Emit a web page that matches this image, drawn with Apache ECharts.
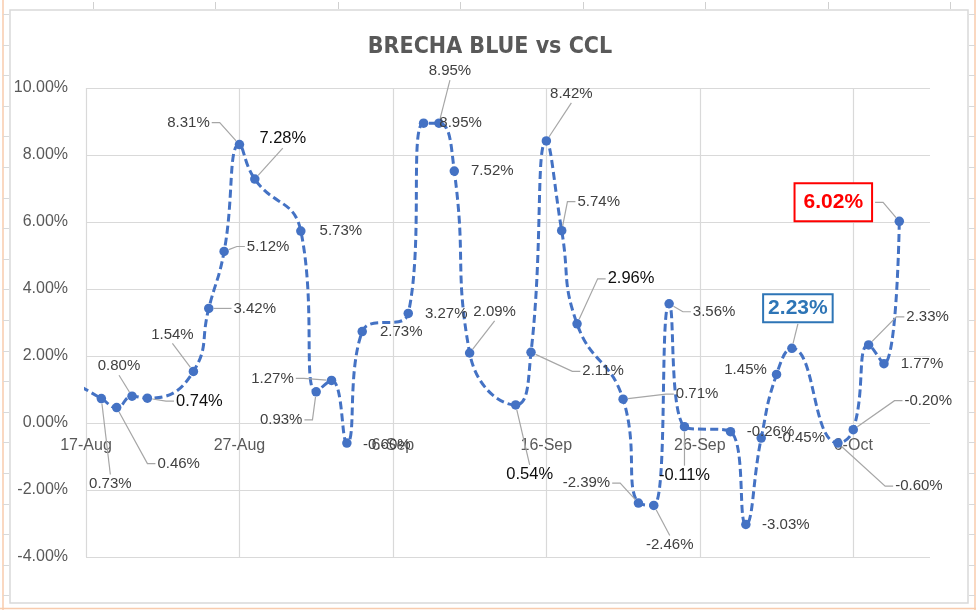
<!DOCTYPE html>
<html><head><meta charset="utf-8">
<script src="https://cdn.jsdelivr.net/npm/echarts@6/dist/echarts.min.js"></script>
<style>html,body{margin:0;padding:0;background:#fff}#c{width:980px;height:614px}</style>
</head><body><div id="c"></div>
<script>
// ---------- data ----------
const chartTitle = 'BRECHA BLUE vs CCL';
const dates = ['2020-08-14','2020-08-18','2020-08-19','2020-08-20','2020-08-21','2020-08-24','2020-08-25','2020-08-26','2020-08-27','2020-08-28','2020-08-31',
  '2020-09-01','2020-09-02','2020-09-03','2020-09-04','2020-09-07','2020-09-08','2020-09-09','2020-09-10','2020-09-11','2020-09-14','2020-09-15','2020-09-16','2020-09-17','2020-09-18','2020-09-21','2020-09-22','2020-09-23','2020-09-24','2020-09-25','2020-09-28','2020-09-29','2020-09-30',
  '2020-10-01','2020-10-02','2020-10-05','2020-10-06','2020-10-07','2020-10-08','2020-10-09'];
const brecha = [1.80,0.73,0.46,0.80,0.74,1.54,3.42,5.12,8.31,7.28,5.73,
  0.93,1.27,-0.60,2.73,3.27,8.95,8.95,7.52,2.09,0.54,2.11,8.42,5.74,2.96,0.71,-2.39,-2.46,3.56,-0.11,-0.26,-3.03,-0.45,
  1.45,2.23,-0.60,-0.20,2.33,1.77,6.02];
const monthNames = ['Jan','Feb','Mar','Apr','May','Jun','Jul','Aug','Sep','Oct','Nov','Dec'];
const axisStart = '2020-08-17';
const axisEnd = '2020-10-11';
const yTicks = {min: -4, max: 10, step: 2};

// ---------- label placement (offsets of label centre from its point, px) ----------
const labelOffsets = [[0,0],[9,85],[62,56],[-13,-30],[52,3],[-21,-37],[46,0],[44,-5],[-51,-22],[28,-41],[40,0],
  [-35,28],[-59,-2],[40,2],[39,0],[38,0],[37,0],[11,-52],[38,0],[25,-41],[14,70],[72,19],[25,-47],[37,-29],[54,-45],[74,-5],[-52,-20],[16,39],[45,8],[0,49],[40,0],[40,0],[40,0],
  [-31,-5],[6,-40],[81,43],[75,-29],[59,-28],[38,0],[-66,-19]];
const labelLeaders = [0,1,1,1,1,1,1,1,1,1,0, 1,1,0,0,0,0,1,0,1,1,1,1,1,1,1,1,1,1,1,0,0,0, 0,1,1,1,1,0,1];
const labelKinds = ['h','n','n','n','b','n','n','n','n','b','n', 'n','n','n','n','n','n','n','n','n','b','n','n','n','b','n','n','n','n','b','n','n','n', 'n','blue','n','n','n','n','red'];

const kindStyle = {
  n: {font: '15px "Liberation Sans", Arial, sans-serif', color: '#404040', h: 16},
  b: {font: '16.5px "Liberation Sans", Arial, sans-serif', color: '#0d0d0d', h: 18},
  blue: {font: 'bold 21px "Liberation Sans", Arial, sans-serif', color: '#2E75B6', h: 29, padX: 4, padY: 3, bw: 2},
  red: {font: 'bold 21px "Liberation Sans", Arial, sans-serif', color: '#FF0000', h: 38, padX: 8, padY: 8, bw: 2}
};

const DAY = 86400000;
const t0 = Date.parse(axisStart + 'T00:00:00Z');
const dayOf = s => Math.round((Date.parse(s + 'T00:00:00Z') - t0) / DAY);
const points = dates.map((d, i) => [dayOf(d), brecha[i]]);
const fmtPct = v => v.toFixed(2) + '%';

const mctx = document.createElement('canvas').getContext('2d');
function measure(text, font) { mctx.font = font; return mctx.measureText(text).width; }

function renderLabel(params, api) {
  const i = params.dataIndex;
  const kind = labelKinds[i];
  if (kind === 'h') return null;
  const val = api.value(1);
  const p = api.coord([api.value(0), val]);
  const off = labelOffsets[i];
  const cx = p[0] + off[0], cy = p[1] + off[1];
  const st = kindStyle[kind];
  const text = fmtPct(val);
  const hw = (measure(text, st.font) + 2 * (st.padX || 0) + 2 * (st.bw || 0)) / 2;
  const hh = st.h / 2;
  const children = [];
  if (labelLeaders[i]) {
    let pts;
    if (Math.abs(off[0]) > hw + 12) {
      const sgn = off[0] > 0 ? 1 : -1;
      const edge = cx - sgn * (hw + 2);
      const stubEnd = edge - sgn * 8;
      const dx = stubEnd - p[0], dy = cy - p[1];
      const len = Math.hypot(dx, dy) || 1;
      pts = [[p[0] + dx / len * 5, p[1] + dy / len * 5], [stubEnd, cy], [edge, cy]];
    } else {
      const sgn = off[1] > 0 ? 1 : -1;
      const ey = cy - sgn * (hh + 1);
      const dx = cx - p[0], dy = ey - p[1];
      const len = Math.hypot(dx, dy) || 1;
      pts = [[p[0] + dx / len * 5, p[1] + dy / len * 5], [cx, ey]];
    }
    children.push({type: 'polyline', shape: {points: pts}, style: {stroke: '#a6a6a6', lineWidth: 1.2, fill: null}, z2: 1});
  }
  const ts = {text: text, x: 0, y: 0, font: st.font, fill: st.color, align: 'center', verticalAlign: 'middle'};
  if (st.bw) {
    ts.backgroundColor = '#ffffff';
    ts.borderColor = st.color;
    ts.borderWidth = st.bw;
    ts.padding = [st.padY, st.padX, st.padY - 1, st.padX];
  }
  children.push({type: 'text', x: cx, y: cy, style: ts, z2: 2});
  return {type: 'group', children: children};
}

// decorative spreadsheet frame
const deco = [];
deco.push({type: 'rect', shape: {x: 10, y: 10, width: 958, height: 593}, style: {fill: '#fff', stroke: '#d9d9d9', lineWidth: 1.5}, z: -10});
deco.push({type: 'line', shape: {x1: 3, y1: 0, x2: 3, y2: 610}, style: {stroke: '#f8cbad', lineWidth: 1.5}, z: -9});
deco.push({type: 'line', shape: {x1: 975, y1: 0, x2: 975, y2: 610}, style: {stroke: '#f8cbad', lineWidth: 1.5}, z: -9});
deco.push({type: 'line', shape: {x1: 0, y1: 608.5, x2: 976, y2: 608.5}, style: {stroke: '#f8cbad', lineWidth: 1.5}, z: -9});
for (let y = 14; y < 606; y += 30.6) {
  deco.push({type: 'line', shape: {x1: 3, y1: Math.round(y) + 0.5, x2: 9, y2: Math.round(y) + 0.5}, style: {stroke: '#d9d9d9', lineWidth: 1}, z: -9});
  deco.push({type: 'line', shape: {x1: 969, y1: Math.round(y) + 0.5, x2: 975, y2: Math.round(y) + 0.5}, style: {stroke: '#d9d9d9', lineWidth: 1}, z: -9});
}
for (let x = 92.5; x < 976; x += 122.5) {
  deco.push({type: 'line', shape: {x1: Math.round(x) + 0.5, y1: 2, x2: Math.round(x) + 0.5, y2: 9}, style: {stroke: '#d0d0d0', lineWidth: 1}, z: -9});
}

// layout: grid box and where the 0% line falls, so the date labels sit just under it
const gridBox = {left: 86, right: 50, top: 88, bottom: 57};
const gridH = 614 - gridBox.top - gridBox.bottom;
const zeroFromBottom = gridH * (0 - yTicks.min) / (yTicks.max - yTicks.min);

const chart = echarts.init(document.getElementById('c'), null, {renderer: 'canvas'});
chart.setOption({
  animation: false,
  backgroundColor: '#ffffff',
  graphic: deco,
  title: {
    text: chartTitle, left: 'center', top: 31,
    textStyle: {fontFamily: '"Liberation Sans Narrow", "DejaVu Sans Condensed", sans-serif', fontWeight: 'bold', fontSize: 23, color: '#595959'}
  },
  grid: Object.assign({containLabel: false}, gridBox),
  xAxis: {
    type: 'value', min: 0, max: dayOf(axisEnd), interval: 10,
    axisLine: {show: false, onZero: false},
    axisTick: {show: false},
    splitLine: {show: true, showMaxLine: false, lineStyle: {color: '#d9d9d9', width: 1.2}},
    axisLabel: {
      margin: 15 - zeroFromBottom, color: '#595959', fontSize: 16, fontFamily: '"Liberation Sans", Arial, sans-serif',
      showMaxLabel: false,
      formatter: v => {
        if (v % 10 !== 0) return '';
        const d = new Date(t0 + v * DAY);
        return d.getUTCDate() + '-' + monthNames[d.getUTCMonth()];
      }
    }
  },
  yAxis: {
    type: 'value', min: yTicks.min, max: yTicks.max, interval: yTicks.step,
    axisLine: {show: false, onZero: false}, axisTick: {show: false},
    splitLine: {lineStyle: {color: '#d9d9d9', width: 1.2}},
    axisLabel: {margin: 18, color: '#595959', fontSize: 16, fontFamily: '"Liberation Sans", Arial, sans-serif', formatter: v => v.toFixed(2) + '%'}
  },
  series: [
    {
      type: 'line', data: points, smooth: 0.5, clip: true,
      symbol: 'circle', symbolSize: 9.5, showSymbol: true,
      lineStyle: {color: '#4472C4', width: 3, type: [8, 4]},
      itemStyle: {color: '#4472C4'},
      label: {show: false}, z: 2
    },
    {
      type: 'custom', data: points, renderItem: renderLabel, z: 3, silent: true,
      encode: {x: 0, y: 1}
    }
  ]
});
</script>
</body></html>
